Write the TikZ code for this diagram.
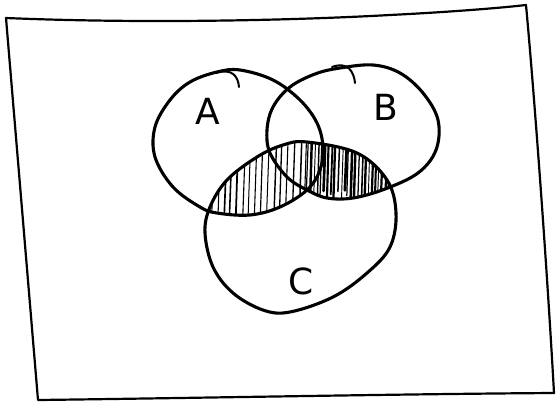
\documentclass[tikz,border=0pt]{standalone}
\usepackage{fontspec}
\setsansfont{DejaVu Sans}
\newcommand\pathA{plot[smooth cycle, tension=0.6] coordinates {(217,72) (240,70) (273,80) (300,100) (317,123) (323,147) (320,170) (307,190) (280,207) (250,215) (217,213) (200,207) (173,187) (155,157) (155,127) (170,100) (190,82)}}
\newcommand\pathB{plot[smooth cycle, tension=0.6] coordinates {(340,68) (373,65) (400,73) (423,93) (438,120) (436,150) (418,173) (385,189) (353,198) (327,198) (307,190) (287,177) (270,153) (267,130) (273,107) (290,87) (315,74)}}
\newcommand\pathC{plot[smooth cycle, tension=0.6] coordinates {(307,142) (357,153) (387,180) (396,213) (390,247) (367,273) (333,297) (290,312) (263,310) (233,293) (213,267) (205,233) (210,207) (227,180) (257,157) (283,145)}}
\begin{document}
\begin{tikzpicture}[x=1pt,y=-1pt, line cap=round, line join=round,
  ring/.style={line width=3.1pt, black},
  frame/.style={line width=2.2pt, black},
  lab/.style={font=\sffamily\fontsize{36}{36}\selectfont, inner sep=0pt}]
\useasboundingbox (0,0) rectangle (557,402);
\fill[white] (0,0) rectangle (557,402);
% frame
\draw[frame] (6,18) .. controls (150,24) and (300,20) .. (390,15) .. controls (450,12) and (500,8) .. (526,5)
  .. controls (533,80) and (546,250) .. (554,393)
  .. controls (400,394) and (200,398) .. (38,400)
  -- cycle;
% hatching of (A or B) and C
\begin{scope}
  \clip \pathC;
  \clip \pathA \pathB;
  \pgfmathsetseed{11}
  \foreach \i in {0,...,16}{
    \pgfmathsetmacro\hx{204+\i*6.2+2*rnd}
    \pgfmathsetmacro\hw{0.9+0.9*rnd}
    \pgfmathsetmacro\ht{132+14*rnd}
    \pgfmathsetmacro\hb{230-18*rnd*rnd}
    \draw[line width=\hw pt] (\hx,\hb) -- (\hx+3,\ht);
  }
  \foreach \i in {0,...,26}{
    \pgfmathsetmacro\hx{306+\i*3.4+1.5*rnd}
    \pgfmathsetmacro\hw{0.9+1.8*rnd}
    \pgfmathsetmacro\ht{132+12*rnd}
    \pgfmathsetmacro\hb{205-16*rnd}
    \draw[line width=\hw pt] (\hx,\hb) -- (\hx+2,\ht);
  }
\end{scope}
% circles
\draw[ring] \pathA;
\draw[ring] \pathB;
\draw[ring] \pathC;
% pen hooks
\draw[ring, line width=2pt] (216,73) .. controls (232,68) and (238,76) .. (239,87);
\draw[ring, line width=2pt] (332,67) .. controls (348,61) and (354,72) .. (355,83);
% labels
\node[lab] (la) at (208,111) {A};
\node[lab] (lb) at (386,107) {B};
\node[lab] (lc) at (301,281) {C};
\end{tikzpicture}
\end{document}
